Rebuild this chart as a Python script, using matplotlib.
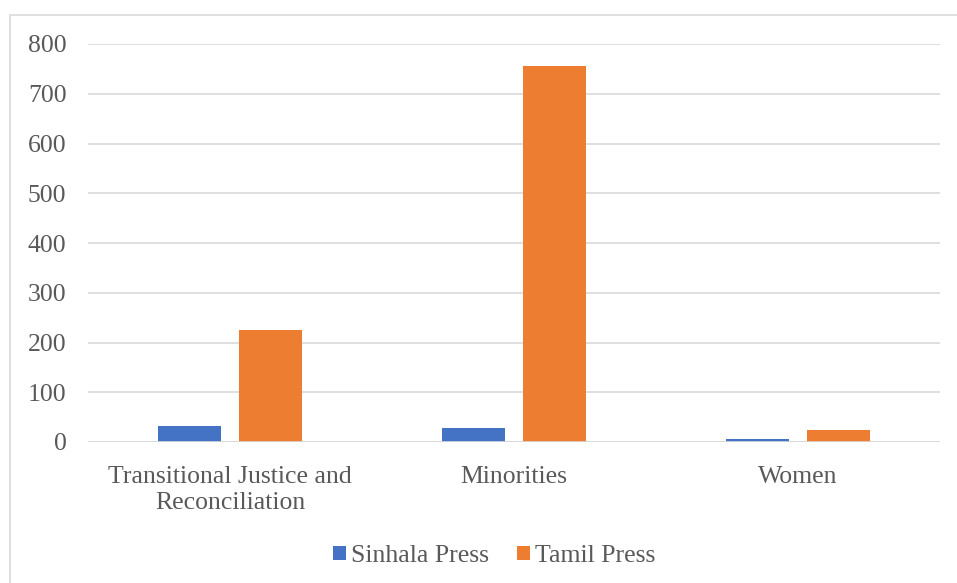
import matplotlib
matplotlib.use("Agg")
import matplotlib.pyplot as plt
import numpy as np
from matplotlib.patches import Rectangle

categories = ["Transitional Justice and\nReconciliation", "Minorities", "Women"]
series_names = ["Sinhala Press", "Tamil Press"]
sinhala = [32, 28, 6]
tamil = [225, 755, 25]
yticks = [0, 100, 200, 300, 400, 500, 600, 700, 800]

blue = "#4472C4"
orange = "#ED7D31"
txt = "#595959"
grid = "#D9D9D9"

plt.rcParams['font.family'] = ['Liberation Serif', 'DejaVu Serif']

W, H = 957, 583
fig = plt.figure(figsize=(W / 100, H / 100), dpi=100)
fig.patch.set_facecolor("white")

# outer chart border
fig.patches.append(Rectangle((10 / W, -0.05), 1.2, 1 - 15 / H + 0.05, transform=fig.transFigure,
                             fill=False, edgecolor=grid, linewidth=1.2, zorder=0))

ax = fig.add_axes([88 / W, (H - 442) / H, (940 - 88) / W, (442 - 44) / H])
x = np.arange(len(categories))
bw = 0.222
off = 0.1426
ax.bar(x - off, sinhala, bw, color=blue, label=series_names[0], zorder=3)
ax.bar(x + off, tamil, bw, color=orange, label=series_names[1], zorder=3)

fs = 18.5
ax.set_xlim(-0.5, len(categories) - 0.5)
ax.set_ylim(0, 800)
ax.set_yticks(yticks)
ax.set_xticks(x)
ax.set_xticklabels(categories, fontsize=fs, color=txt, linespacing=1.27)
ax.tick_params(axis='y', labelsize=fs, labelcolor=txt, length=0, pad=15.5)
ax.tick_params(axis='x', length=0, pad=17)
ax.yaxis.grid(True, color=grid, linewidth=1.2, zorder=0)
for s in ax.spines.values():
    s.set_visible(False)
ax.axhline(0, color=grid, linewidth=1.2, zorder=4)

leg = fig.legend(loc="center", bbox_to_anchor=(494 / W, 1 - 556 / H), ncol=2, frameon=False,
                 fontsize=fs, handlelength=0.5, handleheight=0.5, handletextpad=0.2,
                 columnspacing=1.1, labelcolor=txt)

fig.savefig("out.png", dpi=100, facecolor="white")
